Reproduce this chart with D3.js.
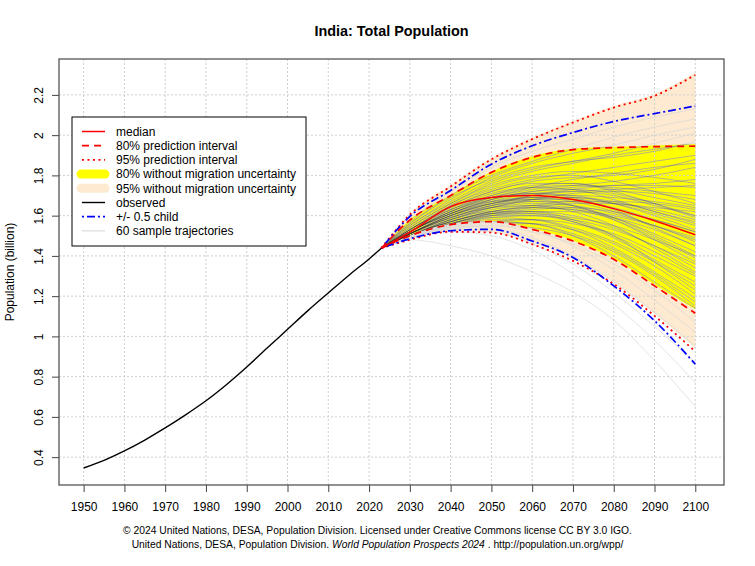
<!DOCTYPE html>
<html>
<head>
<meta charset="utf-8">
<script src="https://cdn.jsdelivr.net/npm/d3@7"></script>
<style>
  body { margin: 0; background: #fff; }
  svg { display: block; font-family: "Liberation Sans", Arial, Helvetica, sans-serif; }
  .tick text { font-size: 12px; fill: #000; }
  .tick line { stroke: #444; }
  .legend-text { font-size: 12px; }
  .footnote { font-size: 10.3px; }
</style>
</head>
<body>
<div id="chart"></div>
<script>
// Observed population (billion)
const obsYears = [1950, 1955, 1960, 1965, 1970, 1975, 1980, 1985, 1990, 1995, 2000, 2005, 2010, 2015, 2020, 2023];
const obsValues = [0.346, 0.384, 0.431, 0.485, 0.545, 0.610, 0.680, 0.760, 0.848, 0.942, 1.035, 1.128, 1.216, 1.303, 1.385, 1.438];

// Projection years and summary lines (billion)
const projYears = [2023, 2030, 2040, 2050, 2060, 2070, 2080, 2090, 2100];
const median = [1.438, 1.518, 1.645, 1.690, 1.700, 1.680, 1.635, 1.575, 1.505];
const pi80Low = [1.438, 1.500, 1.555, 1.570, 1.532, 1.474, 1.383, 1.251, 1.115];
const pi80High = [1.438, 1.578, 1.700, 1.815, 1.890, 1.928, 1.938, 1.943, 1.945];
const pi95Low = [1.438, 1.480, 1.520, 1.516, 1.458, 1.375, 1.260, 1.102, 0.925];
const pi95High = [1.438, 1.605, 1.745, 1.880, 1.980, 2.063, 2.137, 2.195, 2.300];
const halfChildLow = [1.438, 1.485, 1.525, 1.532, 1.474, 1.392, 1.251, 1.078, 0.862];
const halfChildHigh = [1.438, 1.596, 1.725, 1.856, 1.947, 2.013, 2.068, 2.107, 2.145];

// Bands without migration uncertainty
const noMig80Low = [1.438, 1.503, 1.560, 1.574, 1.536, 1.477, 1.387, 1.257, 1.135];
const noMig80High = [1.438, 1.580, 1.703, 1.818, 1.895, 1.932, 1.942, 1.949, 1.956];
const noMig95Low = [1.438, 1.483, 1.525, 1.520, 1.465, 1.385, 1.270, 1.112, 0.940];
const noMig95High = [1.438, 1.608, 1.752, 1.887, 1.987, 2.070, 2.145, 2.205, 2.310];

// 60 sample trajectories: values for 2030 ... 2100 (start at 2023 value)
const trajStart = 1.438;
const trajectories = [
  [1.48, 1.45, 1.40, 1.32, 1.22, 1.08, 0.88, 0.65],
  [1.49, 1.52, 1.50, 1.43, 1.31, 1.16, 0.98, 0.77],
  [1.50, 1.53, 1.52, 1.46, 1.36, 1.22, 1.05, 0.87],
  [1.50, 1.55, 1.54, 1.49, 1.40, 1.27, 1.12, 0.95],
  [1.51, 1.56, 1.57, 1.53, 1.45, 1.33, 1.18, 1.02],
  [1.50, 1.54, 1.55, 1.52, 1.46, 1.36, 1.23, 1.07],
  [1.57, 1.72, 1.84, 1.92, 1.98, 2.04, 2.09, 2.13],
  [1.56, 1.70, 1.80, 1.87, 1.93, 1.99, 2.04, 2.08],
  [1.55, 1.68, 1.79, 1.86, 1.91, 1.95, 2.00, 2.04],
  [1.56, 1.69, 1.78, 1.84, 1.87, 1.91, 1.96, 2.01],
  [1.55, 1.67, 1.77, 1.83, 1.87, 1.89, 1.92, 1.97],
  [1.54, 1.66, 1.76, 1.82, 1.86, 1.90, 1.93, 1.96],
  [1.53, 1.64, 1.72, 1.77, 1.79, 1.80, 1.83, 1.88],
  [1.52, 1.62, 1.69, 1.74, 1.78, 1.81, 1.84, 1.86],
  [1.54, 1.66, 1.75, 1.80, 1.82, 1.81, 1.79, 1.76],
  [1.52, 1.61, 1.68, 1.72, 1.74, 1.75, 1.75, 1.74],
  [1.53, 1.63, 1.70, 1.74, 1.75, 1.74, 1.72, 1.70],
  [1.51, 1.59, 1.65, 1.70, 1.73, 1.75, 1.76, 1.78],
  [1.52, 1.62, 1.70, 1.75, 1.76, 1.73, 1.69, 1.65],
  [1.53, 1.65, 1.74, 1.79, 1.80, 1.77, 1.72, 1.66],
  [1.51, 1.60, 1.66, 1.69, 1.70, 1.69, 1.67, 1.64],
  [1.52, 1.61, 1.66, 1.68, 1.68, 1.66, 1.64, 1.62],
  [1.50, 1.58, 1.64, 1.68, 1.71, 1.72, 1.71, 1.68],
  [1.53, 1.64, 1.72, 1.76, 1.76, 1.72, 1.66, 1.59],
  [1.51, 1.60, 1.67, 1.71, 1.72, 1.70, 1.65, 1.60],
  [1.52, 1.63, 1.71, 1.74, 1.73, 1.68, 1.62, 1.57],
  [1.50, 1.57, 1.62, 1.65, 1.67, 1.67, 1.66, 1.63],
  [1.51, 1.59, 1.65, 1.68, 1.69, 1.67, 1.62, 1.56],
  [1.52, 1.62, 1.68, 1.71, 1.70, 1.66, 1.60, 1.53],
  [1.50, 1.58, 1.64, 1.67, 1.67, 1.64, 1.58, 1.52],
  [1.51, 1.60, 1.66, 1.69, 1.69, 1.66, 1.61, 1.55],
  [1.49, 1.56, 1.61, 1.63, 1.64, 1.62, 1.58, 1.52],
  [1.52, 1.61, 1.67, 1.69, 1.67, 1.62, 1.55, 1.48],
  [1.50, 1.57, 1.62, 1.64, 1.63, 1.60, 1.55, 1.49],
  [1.51, 1.59, 1.64, 1.66, 1.65, 1.61, 1.55, 1.47],
  [1.53, 1.63, 1.69, 1.71, 1.69, 1.63, 1.54, 1.45],
  [1.49, 1.55, 1.60, 1.62, 1.62, 1.59, 1.53, 1.45],
  [1.50, 1.58, 1.63, 1.65, 1.64, 1.59, 1.51, 1.42],
  [1.51, 1.60, 1.65, 1.67, 1.65, 1.59, 1.50, 1.40],
  [1.49, 1.56, 1.60, 1.61, 1.59, 1.55, 1.48, 1.40],
  [1.52, 1.61, 1.67, 1.68, 1.65, 1.58, 1.48, 1.37],
  [1.50, 1.57, 1.61, 1.62, 1.60, 1.54, 1.45, 1.36],
  [1.49, 1.55, 1.59, 1.60, 1.58, 1.53, 1.45, 1.34],
  [1.51, 1.59, 1.64, 1.65, 1.62, 1.55, 1.44, 1.32],
  [1.50, 1.56, 1.60, 1.60, 1.57, 1.50, 1.40, 1.30],
  [1.49, 1.54, 1.57, 1.58, 1.56, 1.51, 1.42, 1.31],
  [1.50, 1.57, 1.61, 1.61, 1.57, 1.49, 1.38, 1.27],
  [1.49, 1.55, 1.58, 1.58, 1.54, 1.47, 1.37, 1.25],
  [1.51, 1.58, 1.62, 1.62, 1.58, 1.50, 1.37, 1.23],
  [1.49, 1.53, 1.56, 1.56, 1.53, 1.46, 1.35, 1.21],
  [1.50, 1.56, 1.59, 1.58, 1.53, 1.44, 1.32, 1.19],
  [1.49, 1.54, 1.57, 1.56, 1.51, 1.43, 1.31, 1.17],
  [1.49, 1.53, 1.55, 1.54, 1.50, 1.42, 1.30, 1.15],
  [1.50, 1.55, 1.57, 1.56, 1.50, 1.40, 1.27, 1.14],
  [1.51, 1.60, 1.66, 1.70, 1.72, 1.73, 1.74, 1.75],
  [1.53, 1.65, 1.73, 1.78, 1.81, 1.84, 1.87, 1.90],
  [1.52, 1.62, 1.69, 1.73, 1.75, 1.77, 1.80, 1.84],
  [1.51, 1.61, 1.68, 1.72, 1.73, 1.71, 1.66, 1.60],
  [1.49, 1.56, 1.61, 1.64, 1.66, 1.66, 1.63, 1.58],
  [1.50, 1.57, 1.62, 1.64, 1.63, 1.58, 1.49, 1.39]
];

// Axis ticks and limits
const xTicks = [1950, 1960, 1970, 1980, 1990, 2000, 2010, 2020, 2030, 2040, 2050, 2060, 2070, 2080, 2090, 2100];
const yTicks = [0.4, 0.6, 0.8, 1.0, 1.2, 1.4, 1.6, 1.8, 2.0, 2.2];
const xLimits = [1950, 2101];
const yLimits = [0.34, 2.30];

const legendLabels = [
  'median', '80% prediction interval', '95% prediction interval',
  '80% without migration uncertainty', '95% without migration uncertainty',
  'observed', '+/- 0.5 child', '60 sample trajectories'
];

class TrajectoryPlot {

  constructor(_config) {
    this.config = {
      parentElement: _config.parentElement,
      containerWidth: 755,
      containerHeight: 566,
      margin: { top: 59, right: 31, bottom: 81, left: 59 }
    };
    this.initVis();
  }

  initVis() {
    let vis = this;

    vis.width = vis.config.containerWidth - vis.config.margin.left - vis.config.margin.right;
    vis.height = vis.config.containerHeight - vis.config.margin.top - vis.config.margin.bottom;

    vis.svg = d3.select(vis.config.parentElement)
      .append('svg')
      .attr('width', vis.config.containerWidth)
      .attr('height', vis.config.containerHeight);

    vis.chartArea = vis.svg.append('g')
      .attr('transform', `translate(${vis.config.margin.left},${vis.config.margin.top})`);

    // R style: pad limits by 4% each side
    const xPad = (xLimits[1] - xLimits[0]) * 0.04;
    const yPad = (yLimits[1] - yLimits[0]) * 0.04;

    vis.xScale = d3.scaleLinear()
      .domain([xLimits[0] - xPad, xLimits[1] + xPad])
      .range([0, vis.width]);

    vis.yScale = d3.scaleLinear()
      .domain([yLimits[0] - yPad, yLimits[1] + yPad])
      .range([vis.height, 0]);

    vis.renderVis();
  }

  renderVis() {
    let vis = this;
    const x = vis.xScale, y = vis.yScale;

    // clip to plot region
    vis.svg.append('clipPath').attr('id', 'plot-clip')
      .append('rect').attr('width', vis.width).attr('height', vis.height);

    const plot = vis.chartArea.append('g').attr('clip-path', 'url(#plot-clip)');

    const band = (lo, hi) => d3.area()
      .x((d, i) => x(projYears[i]))
      .y0((d, i) => y(lo[i]))
      .y1((d, i) => y(hi[i]))
      .curve(d3.curveMonotoneX)(projYears);

    const line = d3.line()
      .x(d => x(d[0]))
      .y(d => y(d[1]))
      .curve(d3.curveMonotoneX);

    const proj = vals => projYears.map((yr, i) => [yr, vals[i]]);

    // Bands
    plot.append('path').attr('d', band(noMig95Low, noMig95High)).attr('fill', '#FDEAD0');
    plot.append('path').attr('d', band(noMig80Low, noMig80High)).attr('fill', '#FFFF00');

    vis.svg.append('clipPath').attr('id', 'yellow-clip')
      .append('path').attr('d', band(noMig80Low, noMig80High));

    // Grid
    const grid = plot.append('g')
      .attr('stroke', '#cfcfcf')
      .attr('stroke-width', 1)
      .attr('stroke-dasharray', '2,2');
    grid.selectAll('.vgrid').data(xTicks).join('line')
      .attr('x1', d => x(d)).attr('x2', d => x(d))
      .attr('y1', 0).attr('y2', vis.height);
    grid.selectAll('.hgrid').data(yTicks).join('line')
      .attr('y1', d => y(d)).attr('y2', d => y(d))
      .attr('x1', 0).attr('x2', vis.width);

    // Sample trajectories (darker where they cross the yellow band)
    const trajData = trajectories.map(t => proj([trajStart].concat(t)));
    plot.append('g').selectAll('path').data(trajData).join('path')
      .attr('d', line)
      .attr('fill', 'none')
      .attr('stroke', '#d9d9d9')
      .attr('stroke-width', 0.7);
    plot.append('g').attr('clip-path', 'url(#yellow-clip)')
      .selectAll('path').data(trajData).join('path')
      .attr('d', line)
      .attr('fill', 'none')
      .attr('stroke', 'rgba(40,40,0,0.33)')
      .attr('stroke-width', 0.7);

    // Interval lines
    const series = [
      { v: pi95High, c: 'red', dash: '2,3.5', w: 1.8 },
      { v: pi95Low, c: 'red', dash: '2,3.5', w: 1.8 },
      { v: halfChildHigh, c: 'blue', dash: '2,3,8,3', w: 1.7 },
      { v: halfChildLow, c: 'blue', dash: '2,3,8,3', w: 1.7 },
      { v: pi80High, c: 'red', dash: '7,5', w: 1.7 },
      { v: pi80Low, c: 'red', dash: '7,5', w: 1.7 },
      { v: median, c: 'red', dash: null, w: 1.5 }
    ];
    plot.append('g').selectAll('path').data(series).join('path')
      .attr('d', s => line(proj(s.v)))
      .attr('fill', 'none')
      .attr('stroke', s => s.c)
      .attr('stroke-width', s => s.w)
      .attr('stroke-dasharray', s => s.dash);

    // Observed
    plot.append('path')
      .attr('d', line(obsYears.map((yr, i) => [yr, obsValues[i]])))
      .attr('fill', 'none')
      .attr('stroke', '#000')
      .attr('stroke-width', 1.4);

    // Axes
    const xAxis = d3.axisBottom(x).tickValues(xTicks).tickSize(7).tickPadding(10.5).tickFormat(d3.format('d'));
    const yAxis = d3.axisLeft(y).tickValues(yTicks).tickSize(7).tickFormat(d => String(+d.toFixed(1)));

    const xAxisGroup = vis.chartArea.append('g')
      .attr('transform', `translate(0,${vis.height})`)
      .call(xAxis);
    xAxisGroup.select('.domain').remove();

    const yAxisGroup = vis.chartArea.append('g').call(yAxis);
    yAxisGroup.select('.domain').remove();
    yAxisGroup.selectAll('text')
      .attr('x', 0).attr('dy', 0)
      .attr('text-anchor', 'middle')
      .attr('transform', 'translate(-16.5,0) rotate(-90)');
    vis.chartArea.selectAll('.tick text').attr('font-family', null).attr('font-size', null);

    // Box
    vis.chartArea.append('rect')
      .attr('width', vis.width).attr('height', vis.height)
      .attr('fill', 'none').attr('stroke', '#555').attr('stroke-width', 1.3);

    // Legend
    const lg = vis.chartArea.append('g').attr('transform', 'translate(13,58)');
    lg.append('rect').attr('width', 234).attr('height', 129)
      .attr('fill', '#fff').attr('stroke', '#000').attr('stroke-width', 1);
    const legendStyles = [
      { c: 'red', w: 1.5, dash: null },
      { c: 'red', w: 1.7, dash: '7,5' },
      { c: 'red', w: 1.8, dash: '2,3.5' },
      { c: '#FFFF00', w: 9, dash: null, cap: 'round' },
      { c: '#FDEAD0', w: 9, dash: null, cap: 'round' },
      { c: '#000', w: 1.4, dash: null },
      { c: 'blue', w: 1.7, dash: '2,3,8,3' },
      { c: '#d3d3d3', w: 1, dash: null }
    ];
    const rows = lg.selectAll('.legend-row').data(legendLabels).join('g')
      .attr('class', 'legend-row')
      .attr('transform', (d, i) => `translate(0,${14.5 + i * 14.2})`);
    rows.append('line')
      .attr('x1', (d, i) => legendStyles[i].cap ? 9 : 10)
      .attr('x2', 33)
      .attr('stroke', (d, i) => legendStyles[i].c)
      .attr('stroke-width', (d, i) => legendStyles[i].w)
      .attr('stroke-dasharray', (d, i) => legendStyles[i].dash)
      .attr('stroke-linecap', (d, i) => legendStyles[i].cap || 'butt');
    rows.append('text')
      .attr('class', 'legend-text')
      .attr('x', 44).attr('y', 4.3)
      .text(d => d);

    // Title and labels
    vis.svg.append('text')
      .attr('x', vis.config.margin.left + vis.width / 2)
      .attr('y', 35.5)
      .attr('text-anchor', 'middle')
      .attr('font-size', 14.4)
      .attr('font-weight', 'bold')
      .text('India: Total Population');

    vis.svg.append('text')
      .attr('transform', `translate(14,${vis.config.margin.top + vis.height / 2}) rotate(-90)`)
      .attr('text-anchor', 'middle')
      .attr('font-size', 12)
      .text('Population (billion)');

    const cx = vis.config.containerWidth / 2;
    vis.svg.append('text')
      .attr('class', 'footnote')
      .attr('x', cx).attr('y', 533.5)
      .attr('text-anchor', 'middle')
      .text('\u00a9 2024 United Nations, DESA, Population Division. Licensed under Creative Commons license CC BY 3.0 IGO.');
    const f2 = vis.svg.append('text')
      .attr('class', 'footnote')
      .attr('x', cx).attr('y', 547.5)
      .attr('text-anchor', 'middle');
    f2.append('tspan').text('United Nations, DESA, Population Division. ');
    f2.append('tspan').attr('font-style', 'italic').text('World Population Prospects 2024');
    f2.append('tspan').text(' . http://population.un.org/wpp/');
  }
}

new TrajectoryPlot({ parentElement: '#chart' });
</script>
</body>
</html>
